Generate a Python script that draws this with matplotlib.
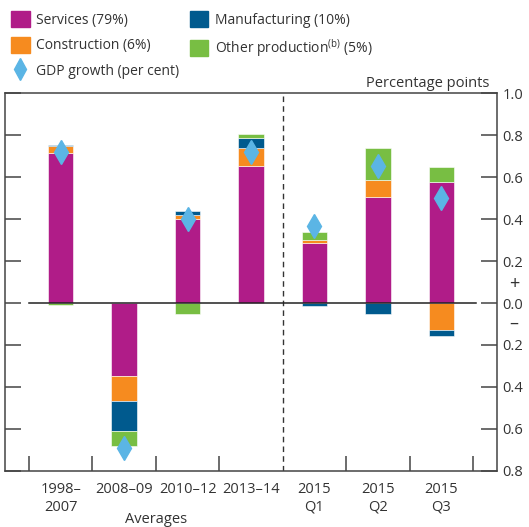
import matplotlib.pyplot as plt
import matplotlib.transforms as mtransforms
from matplotlib.patches import Patch
from matplotlib.lines import Line2D
import numpy as np

plt.rcParams['font.family'] = ['Open Sans', 'DejaVu Sans']
plt.rcParams['mathtext.fontset'] = 'custom'
plt.rcParams['mathtext.rm'] = 'Open Sans'

# Beiträge zum BIP-Wachstum (Prozentpunkte)
categories = ['1998–\n2007', '2008–09', '2010–12', '2013–14', '2015\nQ1', '2015\nQ2', '2015\nQ3']
services = [0.715, -0.346, 0.40, 0.652, 0.287, 0.506, 0.575]
construction = [0.032, -0.122, 0.018, 0.088, 0.013, 0.078, -0.129]
manufacturing = [0.007, -0.142, 0.022, 0.047, -0.013, -0.051, -0.028]
other = [-0.01, -0.07, -0.054, 0.018, 0.037, 0.153, 0.073]
gdp = [0.72, -0.69, 0.40, 0.717, 0.367, 0.652, 0.499]

series = [('Services (79%)', services, '#B01C88'),
          ('Construction (6%)', construction, '#F68B1F'),
          ('Manufacturing (10%)', manufacturing, '#005A8E'),
          ('Other production$^{\\mathregular{(b)}}$ (5%)', other, '#78BE43')]

txt = '#333333'
fig = plt.figure(figsize=(5.29, 5.27), dpi=100)
ax = fig.add_axes([5 / 529, 56 / 527, 492 / 529, 378 / 527])

x = np.arange(len(categories))
pos = np.zeros(len(x))
neg = np.zeros(len(x))
for name, vals, col in series:
    v = np.array(vals)
    base = np.where(v >= 0, pos, neg)
    ax.bar(x, v, 0.4, bottom=base, color=col, edgecolor='white', linewidth=0.4, zorder=2)
    pos = pos + np.where(v >= 0, v, 0)
    neg = neg + np.where(v < 0, v, 0)

ax.plot(x, gdp, linestyle='none', marker='d', markersize=12, color='#5BB5E5',
        markeredgecolor='#5BB5E5', zorder=3)

ax.plot([-0.5, 6.55], [0, 0], color='#222222', linewidth=1.1, zorder=2)
ax.axvline(3.5, color='#333333', linewidth=1, linestyle=(0, (4, 3)), zorder=1)

ax.set_xlim(-0.878, 6.878)
ax.set_ylim(-0.8, 1.0)

ax.set_xticks(x)
ax.set_xticklabels(categories, fontsize=10.5, color=txt, linespacing=1.25)
ax.set_xticks([-0.5, 0.5, 1.5, 2.5, 4.5, 5.5, 6.5], minor=True)
ax.tick_params(axis='x', which='major', length=0, pad=8)
ax.tick_params(axis='x', which='minor', direction='in', length=11, width=1.1, color='#444444')

yt = np.arange(-0.8, 1.01, 0.2)
ax.set_yticks(yt)
ax.set_yticklabels(['%.1f' % abs(v) for v in yt], fontsize=10.5, color=txt)
ax.tick_params(axis='y', which='both', direction='in', length=11.5, width=1.1, color='#444444',
               left=True, right=True, labelleft=False, labelright=True, pad=4)

for s in ax.spines.values():
    s.set_color('#444444')
    s.set_linewidth(1.1)

tr = mtransforms.blended_transform_factory(ax.transAxes, ax.transData)
ax.text(1.024, 0.09, '+', transform=tr, fontsize=13, color=txt, ha='left', va='center')
ax.text(1.024, -0.098, '–', transform=tr, fontsize=13, color=txt, ha='left', va='center')

ax.text(0.985, 1.005, 'Percentage points', transform=ax.transAxes, fontsize=10.5,
        color=txt, ha='right', va='bottom')
ax.text(1.5, -0.995, 'Averages', transform=ax.transData, fontsize=10.5, color=txt,
        ha='center', va='top')

handles = [Patch(color=series[0][2], label=series[0][0]),
           Patch(color=series[1][2], label=series[1][0]),
           Line2D([], [], linestyle='none', marker='d', markersize=11, color='#5BB5E5',
                  label='GDP growth (per cent)'),
           Patch(color=series[2][2], label=series[2][0]),
           Patch(color=series[3][2], label=series[3][0])]
leg = fig.legend(handles=handles, ncol=2, loc='upper left', bbox_to_anchor=(0.0, 1.0),
                 frameon=False, fontsize=10, handlelength=1.35, handleheight=1.35,
                 handletextpad=0.45, columnspacing=0.75, labelspacing=0.68,
                 borderaxespad=0.6, borderpad=0.2)
for t in leg.get_texts():
    t.set_color(txt)

fig.savefig('out.png', dpi=100)
